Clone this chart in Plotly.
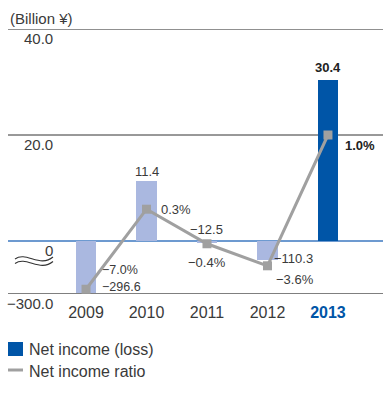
import plotly.graph_objects as go

# ---- data ----
years = ["2009", "2010", "2011", "2012", "2013"]
net_income = [-296.6, 11.4, -12.5, -110.3, 30.4]      # billion yen
income_ratio = [-7.0, 0.3, -0.4, -3.6, 1.0]          # percent
income_labels = ["\u2212296.6", "11.4", "\u221212.5", "\u2212110.3", "30.4"]
ratio_labels = ["\u22127.0%", "0.3%", "\u22120.4%", "\u22123.6%", "1.0%"]
axis_values = [40, 20, 0, -300]
axis_labels = ["40.0", "20.0", "0", "\u2212300.0"]

# ---- broken value scale: losses are compressed below the break ----
def income_axis(v):
    return v if v >= 0 else v / 30.0


def ratio_axis(r):
    return r * 20.0 if r >= 0 else r * 1.3


W, H = 388, 399
L, R, T, B = 8, 5, 29, 105
PW, PH = W - L - R, H - T - B

FONT = "Liberation Sans, Arial, sans-serif"
TXT = "#3a3a3a"
LIGHT = "#aab8e0"
DARK = "#0055a7"
GREY = "#a0a0a0"

xs = list(range(len(years)))
bar_colors = [DARK if y == "2013" else LIGHT for y in years]


def px(x):
    return (x - L) / PW


def py(y):
    return (T + PH - y) / PH


fig = go.Figure()
fig.add_trace(go.Bar(
    x=xs, y=[income_axis(v) for v in net_income], width=0.34,
    marker=dict(color=bar_colors, line=dict(width=0)),
    name="Net income (loss)", showlegend=False, hoverinfo="skip",
))
fig.add_trace(go.Scatter(
    x=xs, y=[ratio_axis(r) for r in income_ratio], mode="lines+markers",
    line=dict(color=GREY, width=3),
    marker=dict(symbol="square", size=9, color=GREY),
    name="Net income ratio", showlegend=False, hoverinfo="skip",
))

# horizontal rules of the value scale
rule_style = {40: ("#222222", 1.2), 20: ("#333333", 1.0), 0: ("#3d78c0", 1.3), -300: ("#555555", 1.5)}
for v in axis_values:
    c, w = rule_style[v]
    fig.add_shape(type="line", xref="paper", yref="y", x0=0, x1=1,
                  y0=income_axis(v), y1=income_axis(v),
                  line=dict(color=c, width=w), layer="below")

annotations = []
# value scale labels, set just under each rule
for v, t in zip(axis_values, axis_labels):
    annotations.append(dict(x=px(55), xref="paper", y=income_axis(v), yref="y",
                            text=t, showarrow=False, xanchor="right", yanchor="middle",
                            yshift=-9, font=dict(size=15, color=TXT, family=FONT)))


def lab(i, yv, text, xanchor, yanchor, xshift=0, yshift=0, bold=False, size=13):
    annotations.append(dict(
        x=xs[i], y=yv, xref="x", yref="y", showarrow=False,
        text=f"<b>{text}</b>" if bold else text,
        xanchor=xanchor, yanchor=yanchor, xshift=xshift, yshift=yshift,
        font=dict(size=size, color="#222222" if bold else TXT, family=FONT)))


# 2009
lab(0, income_axis(net_income[0]), income_labels[0], "left", "middle", 14, 6, size=12.5)
lab(0, ratio_axis(income_ratio[0]), ratio_labels[0], "left", "middle", 14, 19, size=12.5)
# 2010
lab(1, income_axis(net_income[1]), income_labels[1], "center", "bottom", 0, 0)
lab(1, ratio_axis(income_ratio[1]), ratio_labels[1], "left", "middle", 12, 0)
# 2011
lab(2, 0, income_labels[2], "center", "bottom", 0, 2)
lab(2, ratio_axis(income_ratio[2]), ratio_labels[2], "center", "top", 0, -9)
# 2012
lab(3, income_axis(net_income[3]), income_labels[3], "left", "middle", 5, 2)
lab(3, ratio_axis(income_ratio[3]), ratio_labels[3], "left", "middle", 7, -14)
# 2013
lab(4, income_axis(net_income[4]), income_labels[4], "center", "bottom", 0, 3, bold=True)
lab(4, ratio_axis(income_ratio[4]), ratio_labels[4], "left", "middle", 15, -10, bold=True)

# unit caption
annotations.append(dict(x=0, xref="paper", y=py(18), yref="paper",
                        text="(Billion \u00a5)", showarrow=False,
                        xanchor="left", yanchor="middle",
                        font=dict(size=15, color=TXT, family=FONT)))

# axis-break mark
for dy in (0, 4.5):
    path = (f"M {px(15)},{py(259 + dy)} "
            f"C {px(26)},{py(251 + dy)} {px(40)},{py(268 + dy)} {px(53)},{py(257 + dy)}")
    fig.add_shape(type="path", xref="paper", yref="paper", path=path,
                  line=dict(color="#333333", width=1.1))

# legend
fig.add_shape(type="rect", xref="paper", yref="paper",
              x0=px(8), x1=px(23), y0=py(356), y1=py(342),
              fillcolor=DARK, line=dict(width=0))
fig.add_shape(type="line", xref="paper", yref="paper",
              x0=px(8), x1=px(23), y0=py(370), y1=py(370),
              line=dict(color=GREY, width=3))
for yy, t in ((349, "Net income (loss)"), (371, "Net income ratio")):
    annotations.append(dict(x=px(27), y=py(yy), xref="paper", yref="paper", text=t,
                            showarrow=False, xanchor="left", yanchor="middle",
                            font=dict(size=16, color=TXT, family=FONT)))

tick_text = [f"<b><span style='color:{DARK}'>{y}</span></b>" if y == "2013" else y for y in years]

fig.update_layout(
    width=W, height=H, margin=dict(l=L, r=R, t=T, b=B),
    paper_bgcolor="white", plot_bgcolor="rgba(0,0,0,0)",
    annotations=annotations, bargap=0,
    font=dict(family=FONT, color=TXT),
    xaxis=dict(range=[-1.29, 4.91], tickvals=xs, ticktext=tick_text,
               showgrid=False, zeroline=False, showline=False, ticks="",
               tickfont=dict(size=16, color=TXT, family=FONT), ticklabelstandoff=7,
               fixedrange=True),
    yaxis=dict(range=[income_axis(-300), income_axis(40)], showgrid=False, zeroline=False,
               showline=False, showticklabels=False, ticks="", fixedrange=True),
)

fig.write_html("out.html")
